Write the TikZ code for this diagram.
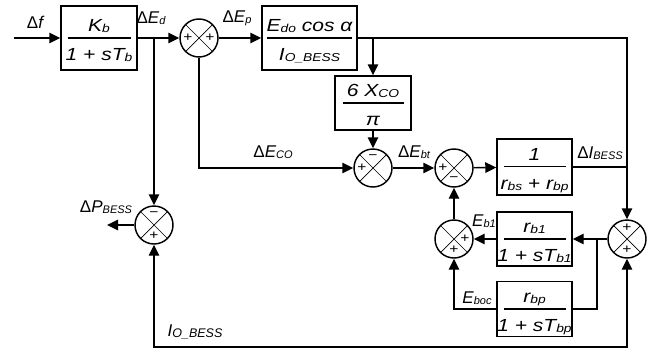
\documentclass[tikz,border=0pt]{standalone}
\usepackage{fontspec}
\setmainfont{Liberation Sans}[FakeStretch=1.2]
\newfontfamily\lblfont{Liberation Sans}
\usetikzlibrary{arrows.meta,calc}
\newcommand\sbs[1]{{\fontsize{11.5}{11.5}\selectfont\raisebox{-0.8pt}{#1}}}
\newcommand\lsb[1]{{\fontsize{11}{11}\selectfont\raisebox{-0.6pt}{#1}}}
\newcommand\Dl{\textup{Δ}}
\newcommand\frc[3]{\vbox{\offinterlineskip\halign{\hfil##\hfil\cr
  \vrule height 19pt depth 3pt width 0pt #2\cr
  \noalign{\kern 3pt}
  \rule{#1}{1.1pt}\cr
  \vrule height 22pt depth 3pt width 0pt #3\cr}}}
\tikzset{
  ln/.style={line width=1.45pt},
  arr/.style={ln,-{Triangle[length=11pt,width=10.5pt]}},
  both/.style={ln,{Triangle[length=11pt,width=10.5pt]}-{Triangle[length=11pt,width=10.5pt]}},
  blk/.style={draw,ln,rectangle,inner sep=0pt,font=\fontsize{17.5}{20}\selectfont\itshape},
  sumj/.style={draw,ln,circle,minimum size=38pt,inner sep=0pt,
    path picture={\draw[line width=0.7pt]
      (path picture bounding box.south west) -- (path picture bounding box.north east)
      (path picture bounding box.north west) -- (path picture bounding box.south east);}},
  sg/.style={inner sep=0pt,font=\fontsize{13}{13}\selectfont},
  lbl/.style={inner sep=0pt,font=\lblfont\fontsize{17}{18}\selectfont\itshape},
}
\begin{document}
\begin{tikzpicture}[x=1pt,y=-1pt]
\useasboundingbox (0,0) rectangle (655,351);
% blocks
\node[blk,minimum width=76pt,minimum height=64pt] (kb) at (99,38) {\frc{63pt}{K\sbs{b}}{1 + sT\sbs{b}}};
\node[blk,minimum width=95pt,minimum height=64pt] (edo) at (309.5,38) {\frc{85pt}{E\sbs{do} cos α}{I\sbs{O\_BESS}}};
\node[blk,minimum width=76pt,minimum height=54pt] (xco) at (373,103) {\frc{61pt}{6 X\sbs{CO}}{π}};
\node[blk,minimum width=75pt,minimum height=56pt] (rbs) at (534.5,167) {\frc{62pt}{1}{r\sbs{bs} + r\sbs{bp}}};
\node[blk,minimum width=75pt,minimum height=54pt] (rb1) at (534.5,239) {\frc{62pt}{r\sbs{b1}}{1 + sT\sbs{b1}}};
\node[blk,minimum width=75pt,minimum height=55pt] (rbp) at (534.5,309) {\frc{62pt}{r\sbs{bp}}{1 + sT\sbs{bp}}};
% summing junctions
\node[sumj] (j1) at (199,38) {};
\node[sumj] (j2) at (373,168) {};
\node[sumj] (j3) at (454,168) {};
\node[sumj] (j4) at (627,239) {};
\node[sumj] (j5) at (454,239) {};
\node[sumj] (jP) at (154,225) {};
% signs
\node[sg] (j1l) at ([xshift=-11pt]j1.center) {+};
\node[sg] (j1r) at ([xshift=11pt]j1.center) {+};
\node[sg] (j2t) at ([yshift=11pt]j2.center) {−};
\node[sg] (j2l) at ([xshift=-11pt]j2.center) {+};
\node[sg] (j3l) at ([xshift=-11pt]j3.center) {+};
\node[sg] (j3b) at ([yshift=-11pt]j3.center) {−};
\node[sg] (j4t) at ([yshift=11pt]j4.center) {+};
\node[sg] (j4b) at ([yshift=-11pt]j4.center) {+};
\node[sg] (j5r) at ([xshift=11pt]j5.center) {+};
\node[sg] (j5b) at ([yshift=-11pt]j5.center) {+};
\node[sg] (jPt) at ([yshift=11pt]jP.center) {−};
\node[sg] (jPb) at ([yshift=-11pt]jP.center) {+};
% coordinates
\coordinate (in) at (14,38);
\coordinate (b1) at (154,38);
\coordinate (b2) at (373,38);
\coordinate (b3) at (597,239);
\coordinate (pout) at (107,225);
\coordinate (bl) at (154,347);
\coordinate (br) at (627,347);
% connectors
\draw[arr] (in) -- (kb);
\draw[arr] (kb) -- (j1);
\draw[arr] (j1) -- (edo);
\draw[arr] (b1) -- (jP);
\draw[arr] (jP) -- (pout);
\draw[arr] (j1) |- (j2);
\draw[arr] (edo) -| (j4);
\draw[arr] (b2) -- (xco);
\draw[arr] (xco) -- (j2);
\draw[arr] (j2) -- (j3);
\draw[arr] (j3) -- (rbs);
\draw[ln] (rbs.east) -- (rbs.east -| j4);
\draw[arr] (j4) -- (rb1);
\draw[arr] (rb1) -- (j5);
\draw[arr] (j5) -- (j3);
\draw[ln] (b3) |- (rbp.east);
\draw[arr] (rbp) -| (j5);
\draw[both] (jP) -- (bl) -- (br) -- (j4);
% labels
\node[lbl] (lf) at (35,22) {\Dl f};
\node[lbl] (led) at (151,18) {\Dl E\lsb{d}};
\node[lbl] (lep) at (237,18) {\Dl E\lsb{p}};
\node[lbl] (leco) at (273,152) {\Dl E\lsb{CO}};
\node[lbl] (lebt) at (414,152) {\Dl E\lsb{bt}};
\node[lbl] (libess) at (600,153) {\Dl I\lsb{BESS}};
\node[lbl] (leb1) at (484,221) {E\lsb{b1}};
\node[lbl] (leboc) at (477,298) {E\lsb{boc}};
\node[lbl] (lpbess) at (106,207) {\Dl P\lsb{BESS}};
\node[lbl] (lio) at (195,332) {I{\fontsize{12.5}{12}\selectfont\raisebox{-0.6pt}{O\_BESS}}};
\end{tikzpicture}
\end{document}
